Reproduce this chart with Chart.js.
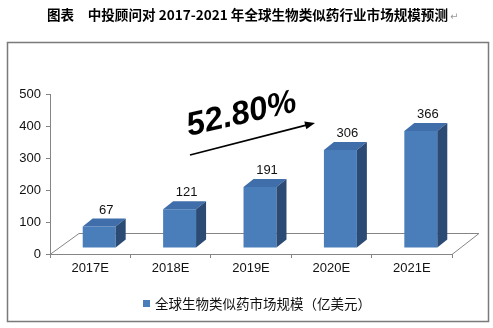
<!DOCTYPE html>
<html>
<head>
<meta charset="utf-8">
<script src="https://cdn.jsdelivr.net/npm/chart.js@4/dist/chart.umd.min.js"></script>
<style>
  html, body { margin: 0; padding: 0; background: #fff; }
  canvas { display: block; }
</style>
</head>
<body>
<canvas id="chart" width="493" height="328"></canvas>
<script>
// data
const categories = ['2017E', '2018E', '2019E', '2020E', '2021E'];
const marketSize = [67, 121, 191, 306, 366];
const yTicks = [0, 100, 200, 300, 400, 500];
const seriesName = '全球生物类似药市场规模（亿美元）';
const growthRate = '52.80%';
const titleText = '图表　中投顾问对 2017-2021 年全球生物类似药行业市场规模预测';

const FRONT = '#4a7ebb';
const TOP = '#3f6eab';
const SIDE = '#2b4a74';
const GRID = '#858585';

// 3D look: shift of the bars, depth of each bar, depth of the floor
const shift = { x: 9, y: -6 };
const depth = { x: 10, y: -8 };
const floorDepth = { x: 29, y: -21 };

const chart3d = {
    id: 'chart3d',
    beforeDatasetsDraw(chart) {
        const { ctx, chartArea: a } = chart;
        // floor
        ctx.save();
        ctx.strokeStyle = GRID;
        ctx.lineWidth = 1;
        ctx.beginPath();
        ctx.moveTo(a.left, a.bottom + 0.5);
        ctx.lineTo(a.left + floorDepth.x, a.bottom + floorDepth.y + 0.5);
        ctx.lineTo(a.right + floorDepth.x - 2, a.bottom + floorDepth.y + 0.5);
        ctx.lineTo(a.right, a.bottom + 0.5);
        ctx.stroke();
        ctx.restore();

        ctx.save();
        ctx.translate(shift.x, shift.y);
    },
    afterDatasetsDraw(chart) {
        const { ctx } = chart;
        const meta = chart.getDatasetMeta(0);
        meta.data.forEach(bar => {
            const l = bar.x - bar.width / 2;
            const r = bar.x + bar.width / 2;
            const t = bar.y;
            const b = bar.base;
            // top face
            ctx.fillStyle = TOP;
            ctx.beginPath();
            ctx.moveTo(l, t);
            ctx.lineTo(r, t);
            ctx.lineTo(r + depth.x, t + depth.y);
            ctx.lineTo(l + depth.x, t + depth.y);
            ctx.closePath();
            ctx.fill();
            // side face
            ctx.fillStyle = SIDE;
            ctx.beginPath();
            ctx.moveTo(r, t);
            ctx.lineTo(r + depth.x, t + depth.y);
            ctx.lineTo(r + depth.x, b + depth.y);
            ctx.lineTo(r, b);
            ctx.closePath();
            ctx.fill();
        });
        ctx.restore();

        // value labels
        ctx.save();
        ctx.font = '13px "Liberation Sans", Arial, sans-serif';
        ctx.fillStyle = '#111';
        ctx.textAlign = 'center';
        ctx.textBaseline = 'alphabetic';
        meta.data.forEach((bar, i) => {
            ctx.fillText(String(marketSize[i]), bar.x + shift.x + 7, bar.y + shift.y + depth.y - 5);
        });
        ctx.restore();
    },
    afterDraw(chart) {
        const { ctx } = chart;

        // growth arrow
        ctx.save();
        ctx.strokeStyle = '#000';
        ctx.fillStyle = '#000';
        ctx.lineWidth = 1.8;
        const x0 = 190, y0 = 155, x1 = 315, y1 = 123;
        const ang = Math.atan2(y1 - y0, x1 - x0);
        ctx.beginPath();
        ctx.moveTo(x0, y0);
        ctx.lineTo(x1 - 8 * Math.cos(ang), y1 - 8 * Math.sin(ang));
        ctx.stroke();
        ctx.beginPath();
        ctx.moveTo(x1, y1);
        ctx.lineTo(x1 - 10 * Math.cos(ang) + 4 * Math.sin(ang), y1 - 10 * Math.sin(ang) - 4 * Math.cos(ang));
        ctx.lineTo(x1 - 10 * Math.cos(ang) - 4 * Math.sin(ang), y1 - 10 * Math.sin(ang) + 4 * Math.cos(ang));
        ctx.closePath();
        ctx.fill();

        // growth text
        ctx.translate(189, 136);
        ctx.rotate(-13 * Math.PI / 180);
        ctx.font = 'italic bold 33px "Liberation Sans", Arial, sans-serif';
        ctx.textAlign = 'left';
        ctx.textBaseline = 'alphabetic';
        ctx.fillText(growthRate, 0, 0);
        ctx.restore();

        // legend
        ctx.save();
        ctx.fillStyle = FRONT;
        ctx.fillRect(143, 300, 7, 7);
        ctx.fillStyle = '#111';
        ctx.font = '13.5px "Noto Sans CJK SC", sans-serif';
        ctx.textBaseline = 'middle';
        ctx.fillText(seriesName, 155, 303.5);
        ctx.restore();

        // title, fitted to span from x=47 to x=448
        ctx.save();
        ctx.fillStyle = '#000';
        ctx.textBaseline = 'middle';
        ctx.font = 'bold 13.5px "Noto Sans CJK SC", sans-serif';
        const w = ctx.measureText(titleText).width;
        ctx.translate(47, 15);
        ctx.scale(401 / w, 1);
        ctx.fillText(titleText, 0, 0);
        ctx.restore();
        ctx.save();
        ctx.fillStyle = '#999';
        ctx.font = '10px "DejaVu Sans", sans-serif';
        ctx.textBaseline = 'middle';
        ctx.fillText('↵', 450, 17);
        ctx.restore();

        // frame
        ctx.save();
        ctx.strokeStyle = '#7a7a7a';
        ctx.lineWidth = 1.5;
        ctx.strokeRect(7.5, 42.5, 481, 279);
        ctx.restore();
    }
};

new Chart(document.getElementById('chart').getContext('2d'), {
    type: 'bar',
    data: {
        labels: categories,
        datasets: [{
            label: seriesName,
            data: marketSize,
            backgroundColor: FRONT,
            borderWidth: 0,
            barPercentage: 0.41,
            categoryPercentage: 1.0
        }]
    },
    options: {
        responsive: false,
        animation: false,
        devicePixelRatio: 1,
        layout: { padding: { left: 0, right: 41, top: 94, bottom: 54 } },
        plugins: {
            legend: { display: false },
            tooltip: { enabled: false }
        },
        scales: {
            x: {
                afterFit(scale) { scale.height = 20; },
                grid: {
                    drawOnChartArea: false,
                    offset: true,
                    color: GRID,
                    tickLength: 4
                },
                border: { color: GRID, width: 1 },
                ticks: {
                    color: '#111',
                    padding: 3,
                    font: { family: '"Liberation Sans", Arial, sans-serif', size: 13 }
                }
            },
            y: {
                min: yTicks[0],
                max: yTicks[yTicks.length - 1],
                afterFit(scale) { scale.width = 50; },
                afterBuildTicks(scale) { scale.ticks = yTicks.map(v => ({ value: v })); },
                grid: {
                    drawOnChartArea: false,
                    color: GRID,
                    tickLength: 4
                },
                border: { color: GRID, width: 1 },
                ticks: {
                    color: '#111',
                    padding: 5,
                    font: { family: '"Liberation Sans", Arial, sans-serif', size: 13 }
                }
            }
        }
    },
    plugins: [chart3d]
});
</script>
</body>
</html>
